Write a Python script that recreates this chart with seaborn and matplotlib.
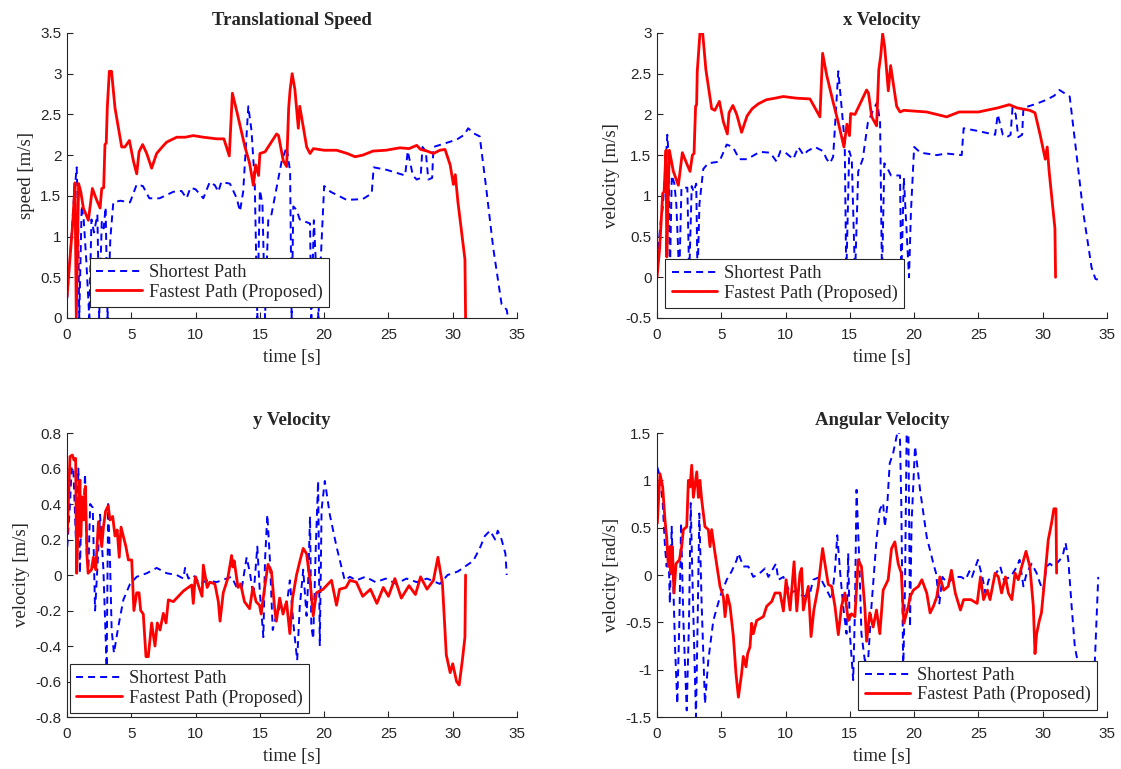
import numpy as np
import pandas as pd
import matplotlib
matplotlib.use('Agg')
import matplotlib.pyplot as plt
from matplotlib.ticker import FuncFormatter
import seaborn as sns

# (time [s], value) pairs
speed_fast = [(0, 0.26), (0.36, 1.0), (0.44, 1.16), (0.62, 1.66), (0.72, 0.0), (0.9, 1.65), (1.07, 1.55),
              (1.27, 1.35), (1.66, 1.2), (1.97, 1.59), (2.3, 1.45), (2.57, 1.35), (2.7, 1.59), (2.85, 1.6),
              (2.95, 2.13), (3.05, 2.15), (3.13, 2.58), (3.29, 3.03), (3.46, 3.03), (3.73, 2.58), (4.25, 2.1),
              (4.5, 2.1), (4.85, 2.18), (5.16, 1.93), (5.42, 1.77), (5.6, 2.04), (5.88, 2.13), (6.2, 2.02),
              (6.58, 1.84), (6.97, 2.02), (7.4, 2.1), (7.75, 2.16), (8.53, 2.22), (9.2, 2.22), (9.82, 2.24),
              (10.6, 2.22), (11.64, 2.2), (12.2, 2.2), (12.62, 1.99), (12.86, 2.76), (13.2, 2.54), (13.84, 2.1),
              (14.2, 1.9), (14.49, 1.63), (14.67, 1.88), (14.9, 1.75), (15.0, 2.02), (15.4, 2.04), (16.3, 2.26),
              (16.45, 2.24), (16.82, 1.93), (17.08, 1.86), (17.24, 2.58), (17.35, 2.8), (17.51, 3.0),
              (17.72, 2.81), (17.99, 2.33), (18.1, 2.6), (18.64, 2.1), (18.9, 2.02), (19.16, 2.08), (20.0, 2.06),
              (20.97, 2.06), (21.8, 2.02), (22.4, 1.98), (23.0, 2.0), (23.8, 2.05), (24.8, 2.06), (25.9, 2.09),
              (26.6, 2.08), (27.2, 2.12), (27.5, 2.07), (28.0, 2.05), (28.5, 2.02), (29.0, 2.06), (29.4, 2.07),
              (29.8, 1.88), (30.05, 1.64), (30.2, 1.76), (30.4, 1.43), (30.95, 0.72), (31.0, 0.0)]

speed_short = [(0, 0.22), (0.3, 0.9), (0.55, 1.5), (0.75, 1.85), (0.85, 1.3), (0.95, 0.0), (1.14, 1.38),
               (1.3, 1.2), (1.5, 0.7), (1.73, 0.0), (1.9, 1.21), (2.1, 1.05), (2.36, 1.27), (2.5, 0.0),
               (2.7, 1.18), (2.85, 1.1), (3.0, 1.36), (3.15, 0.0), (3.37, 0.98), (3.6, 1.42), (4.14, 1.44),
               (4.9, 1.42), (5.42, 1.64), (5.9, 1.62), (6.4, 1.47), (7.2, 1.47), (8.27, 1.55), (8.9, 1.56),
               (9.3, 1.47), (9.6, 1.6), (10.0, 1.58), (10.6, 1.47), (11.1, 1.67), (11.5, 1.63), (11.77, 1.55),
               (12.0, 1.67), (12.67, 1.65), (13.2, 1.47), (13.45, 1.31), (13.7, 1.55), (14.1, 2.6), (14.35, 2.3),
               (14.6, 1.67), (14.8, 0.0), (15.0, 1.57), (15.2, 1.4), (15.4, 0.0), (15.65, 1.2), (15.9, 1.27),
               (16.3, 1.6), (16.7, 1.93), (17.08, 2.1), (17.35, 1.8), (17.47, 0.0), (17.6, 1.37), (17.85, 1.33),
               (18.1, 1.21), (18.9, 1.16), (19.0, 0.0), (19.2, 1.2), (19.55, 0.0), (19.7, 0.6), (20.0, 1.62),
               (20.5, 1.55), (21.75, 1.45), (23.0, 1.46), (23.7, 1.53), (23.85, 1.85), (24.85, 1.82),
               (26.3, 1.75), (26.5, 2.05), (26.9, 1.75), (27.2, 1.7), (27.5, 1.72), (27.65, 2.1), (27.9, 2.05),
               (28.1, 1.7), (28.4, 1.72), (28.5, 2.1), (29.5, 2.15), (30.3, 2.19), (30.9, 2.25), (31.2, 2.33),
               (31.6, 2.27), (32.1, 2.23), (32.6, 1.6), (33.15, 0.86), (33.8, 0.17), (34.2, 0.1), (34.3, 0.0)]

xvel_fast = [(0, 0.0), (0.2, 0.35), (0.36, 0.79), (0.44, 1.03), (0.55, 1.05), (0.7, 1.56), (0.76, 0.25),
             (0.85, 0.9), (0.96, 1.56), (1.27, 1.3), (1.66, 1.13), (1.97, 1.53), (2.3, 1.4), (2.57, 1.3),
             (2.75, 1.5), (2.88, 1.52), (3.0, 2.1), (3.08, 2.12), (3.13, 2.53), (3.34, 3.0), (3.55, 3.0),
             (3.8, 2.55), (4.25, 2.07), (4.5, 2.05), (4.85, 2.16), (5.16, 1.91), (5.47, 1.76), (5.6, 2.02),
             (5.9, 2.11), (6.2, 2.0), (6.58, 1.78), (7.0, 1.98), (7.4, 2.07), (7.88, 2.13), (8.5, 2.18),
             (9.2, 2.2), (9.82, 2.22), (10.8, 2.2), (11.9, 2.19), (12.67, 1.97), (12.88, 2.75), (13.2, 2.48),
             (13.7, 2.15), (14.1, 1.9), (14.54, 1.6), (14.77, 1.88), (14.97, 1.74), (15.06, 2.01), (15.4, 2.0),
             (16.3, 2.3), (16.45, 2.26), (16.7, 1.97), (17.08, 1.86), (17.25, 2.55), (17.4, 2.72),
             (17.55, 2.99), (17.7, 2.84), (17.99, 2.29), (18.17, 2.6), (18.64, 2.1), (18.9, 2.03), (19.2, 2.05),
             (20.97, 2.03), (22.53, 1.97), (23.5, 2.03), (25.0, 2.03), (26.5, 2.08), (27.4, 2.12), (28.0, 2.08),
             (29.0, 2.05), (29.4, 2.02), (29.8, 1.75), (30.2, 1.45), (30.35, 1.6), (30.5, 1.3), (30.95, 0.6),
             (31.0, 0.0)]

xvel_short = [(0, 0.2), (0.3, 0.7), (0.44, 0.85), (0.6, 1.2), (0.8, 1.75), (0.9, 1.5), (1.0, 0.0),
              (1.15, 1.25), (1.35, 1.15), (1.5, 0.9), (1.73, 0.0), (1.9, 1.1), (2.1, 1.1), (2.36, 1.1),
              (2.5, 0.0), (2.7, 1.12), (2.85, 1.05), (3.05, 1.15), (3.15, 0.0), (3.3, 0.9), (3.6, 1.33),
              (3.98, 1.4), (4.85, 1.42), (5.42, 1.63), (5.9, 1.6), (6.4, 1.45), (7.0, 1.45), (8.0, 1.54),
              (8.8, 1.53), (9.3, 1.42), (9.6, 1.55), (10.0, 1.53), (10.6, 1.45), (10.99, 1.6), (11.4, 1.5),
              (11.7, 1.55), (12.28, 1.6), (12.9, 1.55), (13.2, 1.45), (13.45, 1.4), (13.7, 1.48), (14.1, 2.53),
              (14.35, 2.1), (14.6, 1.65), (14.72, 0.0), (14.95, 1.55), (15.15, 1.45), (15.4, 0.0), (15.65, 1.3),
              (16.0, 1.45), (16.4, 1.9), (16.8, 2.05), (17.13, 2.15), (17.35, 1.9), (17.5, 0.0), (17.68, 1.4),
              (17.95, 1.33), (18.2, 1.25), (18.9, 1.25), (19.0, 0.0), (19.2, 1.22), (19.6, 0.0), (19.75, 0.8),
              (20.0, 1.6), (20.5, 1.53), (21.75, 1.5), (22.5, 1.52), (23.7, 1.5), (23.85, 1.83), (24.85, 1.8),
              (26.3, 1.75), (26.5, 2.0), (26.9, 1.75), (27.2, 1.72), (27.5, 1.75), (27.65, 2.08), (27.9, 2.0),
              (28.1, 1.72), (28.4, 1.75), (28.5, 2.08), (29.5, 2.13), (30.3, 2.18), (30.9, 2.23), (31.3, 2.3),
              (31.7, 2.26), (32.1, 2.22), (32.6, 1.55), (33.15, 0.8), (33.8, 0.12), (34.1, -0.02), (34.3, -0.03)]

yvel_fast = [(0.02, 0.235), (0.23, 0.667), (0.41, 0.676), (0.54, 0.648), (0.67, 0.657), (0.75, 0.01),
             (0.87, 0.31), (1.0, 0.535), (1.07, 0.216), (1.18, 0.44), (1.3, 0.31), (1.43, 0.5), (1.56, 0.1),
             (1.64, 0.01), (1.9, 0.03), (2.05, 0.1), (2.23, 0.03), (2.44, 0.3), (2.7, 0.16), (2.83, 0.27),
             (3.0, 0.36), (3.2, 0.39), (3.34, 0.31), (3.55, 0.33), (3.73, 0.22), (3.9, 0.254), (4.06, 0.1),
             (4.2, 0.27), (4.58, 0.16), (4.77, 0.085), (5.03, 0.085), (5.2, -0.2), (5.42, -0.1), (5.6, -0.1),
             (5.73, -0.2), (5.93, -0.22), (6.14, -0.46), (6.32, -0.46), (6.58, -0.27), (6.84, -0.4),
             (7.02, -0.27), (7.23, -0.31), (7.49, -0.216), (7.7, -0.27), (7.88, -0.14), (8.27, -0.15),
             (9.05, -0.09), (9.7, -0.056), (9.82, -0.16), (9.95, -0.03), (10.0, -0.01), (10.5, -0.12),
             (10.6, 0.056), (10.9, -0.07), (11.1, -0.04), (11.5, -0.05), (11.77, -0.15), (11.9, -0.26),
             (12.15, -0.1), (12.5, -0.02), (12.8, 0.11), (12.9, 0.045), (13.0, 0.08), (13.3, -0.07),
             (13.5, -0.05), (13.8, -0.15), (14.2, -0.19), (14.45, -0.07), (14.7, -0.15), (14.97, -0.17),
             (15.1, -0.22), (15.37, -0.07), (15.63, 0.06), (15.9, 0.02), (16.15, -0.19), (16.28, -0.26),
             (16.54, -0.13), (16.8, -0.22), (17.07, -0.15), (17.33, -0.33), (17.54, -0.13), (17.85, 0.0),
             (18.1, 0.075), (18.37, 0.15), (18.63, 0.12), (18.9, -0.03), (19.15, -0.23), (19.4, -0.1),
             (19.92, -0.08), (20.57, -0.03), (20.96, -0.17), (21.2, -0.08), (21.7, -0.07), (22.0, -0.03),
             (22.5, -0.04), (23.0, -0.12), (23.6, -0.08), (24.1, -0.16), (24.6, -0.07), (25.0, -0.12),
             (25.5, -0.02), (26.0, -0.13), (26.6, -0.06), (27.1, -0.11), (27.5, -0.01), (28.0, -0.08),
             (28.5, -0.03), (28.85, 0.1), (29.2, -0.05), (29.5, -0.45), (29.8, -0.55), (30.0, -0.5),
             (30.3, -0.6), (30.5, -0.62), (30.75, -0.48), (30.95, -0.35), (31.0, 0.0)]

yvel_short = [(0.02, 0.16), (0.23, 0.4), (0.36, 0.61), (0.49, 0.6), (0.62, 0.34), (0.75, 0.085), (0.88, 0.6),
              (1.0, 0.01), (1.14, 0.44), (1.27, 0.31), (1.4, 0.57), (1.53, 0.12), (1.66, 0.03), (1.8, 0.4),
              (2.0, 0.38), (2.18, -0.2), (2.36, 0.04), (2.57, 0.34), (2.83, 0.03), (3.08, -0.52), (3.2, 0.4),
              (3.34, 0.085), (3.47, -0.31), (3.65, -0.44), (3.99, -0.29), (4.38, -0.14), (4.9, -0.05),
              (5.42, -0.01), (6.2, 0.01), (6.97, 0.04), (7.75, 0.01), (8.53, 0.0), (9.05, -0.02), (9.18, 0.04),
              (9.44, -0.02), (9.82, 0.0), (10.35, -0.05), (10.87, -0.03), (11.64, -0.04), (12.4, -0.02),
              (12.8, -0.01), (13.2, -0.07), (13.6, -0.07), (13.97, 0.1), (14.23, 0.01), (14.5, -0.12),
              (14.8, 0.16), (15.0, -0.1), (15.27, -0.35), (15.4, 0.085), (15.58, 0.34), (15.78, 0.085),
              (16.0, -0.31), (16.3, -0.22), (16.7, -0.16), (17.07, -0.18), (17.33, -0.03), (17.6, -0.27),
              (17.9, -0.48), (18.1, -0.18), (18.37, 0.03), (18.63, -0.23), (18.76, -0.03), (18.9, 0.33),
              (19.0, -0.29), (19.15, -0.36), (19.35, 0.16), (19.53, 0.53), (19.66, -0.4), (19.8, 0.37),
              (20.05, 0.53), (20.44, 0.34), (20.96, 0.16), (21.6, -0.03), (22.0, -0.01), (22.5, -0.03),
              (23.2, -0.01), (24.0, -0.04), (24.8, -0.02), (25.6, -0.05), (26.4, -0.02), (27.2, -0.04),
              (28.0, -0.02), (29.0, -0.05), (29.6, 0.0), (30.4, 0.02), (31.0, 0.05), (31.6, 0.08),
              (32.1, 0.15), (32.5, 0.22), (32.9, 0.25), (33.3, 0.2), (33.5, 0.25), (33.8, 0.2), (34.1, 0.12),
              (34.2, 0.0)]

ang_fast = [(0.02, 0.546), (0.23, 1.07), (0.44, 0.93), (0.62, 0.58), (0.75, 0.4), (0.88, 0.09), (1.0, 0.3),
            (1.08, 0.02), (1.19, 0.3), (1.32, -0.19), (1.48, 0.12), (1.74, 0.16), (1.92, 0.3), (2.05, 0.48),
            (2.31, 0.51), (2.44, 1.0), (2.57, 0.93), (2.7, 1.16), (2.83, 0.82), (3.09, 1.09), (3.22, 0.82),
            (3.34, 1.0), (3.47, 0.8), (3.73, 0.51), (3.99, 0.48), (4.12, 0.3), (4.25, 0.48), (4.51, 0.23),
            (4.9, -0.12), (5.16, -0.23), (5.29, -0.44), (5.47, -0.21), (5.68, -0.33), (5.94, -0.65),
            (6.14, -1.04), (6.33, -1.29), (6.58, -1.04), (6.71, -0.86), (6.92, -0.97), (7.05, -0.83),
            (7.23, -0.76), (7.36, -0.51), (7.49, -0.62), (7.75, -0.48), (8.27, -0.44), (8.53, -0.33),
            (8.92, -0.28), (9.18, -0.19), (9.57, -0.19), (9.83, -0.38), (10.04, -0.05), (10.35, -0.37),
            (10.66, 0.14), (10.87, -0.38), (11.12, 0.02), (11.25, 0.07), (11.38, -0.37), (11.77, -0.12),
            (11.98, -0.65), (12.2, -0.37), (12.54, -0.12), (12.88, 0.28), (13.06, 0.12), (13.32, -0.1),
            (13.58, -0.12), (13.84, -0.33), (14.1, -0.63), (14.35, -0.33), (14.61, -0.19), (14.87, -0.48),
            (15.13, -0.41), (15.39, -0.44), (15.65, 0.16), (15.9, 0.09), (16.16, -0.33), (16.3, -0.7),
            (16.55, -0.4), (16.81, -0.55), (17.07, -0.37), (17.33, -0.62), (17.59, -0.16), (17.98, -0.05),
            (18.24, 0.28), (18.5, 0.35), (18.76, 0.12), (19.0, 0.02), (19.2, -0.51), (19.55, -0.33),
            (19.68, -0.23), (19.94, -0.16), (20.33, -0.12), (20.6, -0.05), (20.98, -0.19), (21.24, -0.4),
            (21.5, -0.33), (21.76, -0.23), (22.0, -0.02), (22.3, -0.16), (22.65, -0.12), (22.9, 0.05),
            (23.2, -0.19), (23.6, -0.37), (23.85, -0.26), (24.4, -0.26), (24.9, -0.3), (25.16, -0.02),
            (25.4, -0.26), (25.7, -0.16), (25.9, -0.26), (26.3, 0.02), (26.55, -0.02), (26.8, -0.19),
            (27.1, -0.02), (27.33, -0.19), (27.6, -0.26), (27.85, 0.02), (28.1, -0.05), (28.37, 0.09),
            (28.7, 0.25), (29.0, 0.09), (29.27, -0.33), (29.4, -0.83), (29.53, -0.62), (29.74, -0.48),
            (29.9, -0.4), (30.17, -0.02), (30.43, 0.37), (30.69, 0.55), (30.87, 0.7), (31.03, 0.7),
            (31.08, 0.02)]

ang_short = [(0.02, 1.14), (0.23, 1.04), (0.44, 0.76), (0.62, 0.3), (0.75, 0.09), (0.88, 0.3), (1.0, -0.3),
             (1.14, 0.51), (1.27, -0.12), (1.4, -0.76), (1.58, -1.36), (1.74, -0.48), (1.87, 0.55),
             (2.05, -0.48), (2.31, -1.43), (2.49, -0.48), (2.62, 0.76), (2.77, -0.12), (3.03, -1.5),
             (3.16, -0.48), (3.29, 0.65), (3.47, -0.3), (3.73, -1.36), (3.99, -0.9), (4.38, -0.48),
             (4.9, -0.23), (5.42, -0.05), (5.81, 0.04), (6.2, 0.16), (6.33, 0.23), (6.71, 0.09), (7.1, 0.09),
             (7.49, -0.02), (8.0, 0.02), (8.4, 0.07), (8.66, -0.02), (9.25, 0.12), (9.44, -0.05),
             (9.83, -0.02), (10.35, -0.19), (10.87, -0.16), (11.38, -0.23), (11.9, -0.19), (12.15, -0.05),
             (12.67, -0.02), (13.2, -0.16), (13.58, -0.26), (13.84, 0.05), (14.02, 0.42), (14.23, 0.05),
             (14.48, -0.33), (14.74, -0.62), (14.87, 0.23), (15.0, -0.62), (15.26, -1.11), (15.39, -0.4),
             (15.52, 0.9), (15.73, 0.16), (15.9, -0.62), (16.16, -0.9), (16.42, -0.9), (16.68, -0.33),
             (17.07, 0.37), (17.33, 0.69), (17.59, 0.76), (17.72, 0.51), (17.9, 0.72), (18.1, 1.18),
             (18.37, 1.29), (18.63, 1.46), (18.76, 1.55), (18.9, 1.43), (19.0, 0.76), (19.15, -1.0),
             (19.29, -0.12), (19.42, 1.55), (19.55, 1.55), (19.68, -0.55), (19.8, 0.55), (20.07, 1.36),
             (20.46, 0.9), (20.98, 0.4), (21.5, 0.12), (21.7, 0.02), (21.96, -0.3), (22.2, -0.02),
             (22.6, -0.09), (23.1, -0.02), (23.65, -0.02), (24.0, -0.05), (24.3, 0.04), (24.5, -0.02),
             (24.96, 0.16), (25.3, -0.02), (25.55, -0.19), (25.8, -0.05), (26.2, -0.02), (26.7, 0.09),
             (26.97, -0.05), (27.5, -0.02), (28.0, 0.09), (28.2, 0.16), (28.5, -0.12), (28.75, 0.02),
             (29.14, 0.12), (29.53, 0.02), (29.8, -0.09), (30.04, -0.16), (30.3, 0.09), (30.56, 0.12),
             (30.82, 0.09), (31.08, 0.12), (31.34, 0.16), (31.6, 0.23), (31.78, 0.34), (31.99, 0.16),
             (32.25, -0.33), (32.5, -0.76), (32.7, -0.9), (33.2, -1.3), (33.7, -1.2), (34.06, -0.9),
             (34.32, -0.02)]

titles = ['Translational Speed', 'x Velocity', 'y Velocity', 'Angular Velocity']
ylabels = ['speed [m/s]', 'velocity [m/s]', 'velocity [m/s]', 'velocity [rad/s]']
ylims = [(0, 3.5), (-0.5, 3), (-0.8, 0.8), (-1.5, 1.5)]
ysteps = [0.5, 0.5, 0.2, 0.5]
series = [(speed_short, speed_fast), (xvel_short, xvel_fast), (yvel_short, yvel_fast), (ang_short, ang_fast)]
legend_anchor = [(0.051, 0.038), (0.018, 0.035), (0.0067, 0.013), (0.447, 0.025)]


def matlab_fmt(x, pos):
    x = round(x, 6) + 0.0
    return '%g' % x


sns.set_style('ticks')
plt.rcParams['font.family'] = ['Liberation Serif', 'DejaVu Serif']

fig = plt.figure(figsize=(11.21, 7.69), dpi=100)
positions = [[0.0598, 0.5865, 0.4014, 0.3706], [0.5861, 0.5865, 0.4014, 0.3706],
             [0.0598, 0.0676, 0.4014, 0.3693], [0.5861, 0.0676, 0.4014, 0.3693]]

for i in range(4):
    ax = fig.add_axes(positions[i])
    short, fast = series[i]
    df_s = pd.DataFrame(short, columns=['t', 'v'])
    df_f = pd.DataFrame(fast, columns=['t', 'v'])
    sns.lineplot(data=df_s, x='t', y='v', ax=ax, estimator=None, sort=False, color=(0, 0, 1),
                 linewidth=1.4, linestyle='--', label='Shortest Path')
    ax.lines[-1].set_dashes([3.6, 2.6])
    sns.lineplot(data=df_f, x='t', y='v', ax=ax, estimator=None, sort=False, color=(1, 0, 0),
                 linewidth=2.0, label='Fastest Path (Proposed)')

    lo, hi = ylims[i]
    ax.set_xlim(0, 35)
    ax.set_ylim(lo, hi)
    ax.set_xticks(np.arange(0, 36, 5))
    ax.set_yticks(np.round(np.arange(lo, hi + 1e-9, ysteps[i]), 2))
    ax.xaxis.set_major_formatter(FuncFormatter(matlab_fmt))
    ax.yaxis.set_major_formatter(FuncFormatter(matlab_fmt))
    ax.tick_params(direction='in', length=4, width=0.8, colors='0.15', labelsize=11,
                   labelfontfamily='Liberation Sans')
    ax.tick_params(axis='x', pad=7)
    ax.tick_params(axis='y', pad=4)
    for s in ['top', 'right']:
        ax.spines[s].set_visible(False)
    for s in ['left', 'bottom']:
        ax.spines[s].set_color('0.15')
        ax.spines[s].set_linewidth(0.8)

    ax.set_title(titles[i], fontsize=13.5, fontweight='bold', pad=6)
    ax.set_xlabel('time [s]', fontsize=13.5, labelpad=5)
    ax.set_ylabel(ylabels[i], fontsize=13.5, labelpad=4)

    leg = ax.legend(loc='lower left', bbox_to_anchor=legend_anchor[i], borderaxespad=0, fontsize=13.2,
                    frameon=True, fancybox=False, framealpha=1, edgecolor='0.15', handlelength=2.5,
                    handletextpad=0.35, labelspacing=0.12, borderpad=0.35)
    leg.get_frame().set_linewidth(0.8)
    leg.set_zorder(10)

fig.savefig('out.png', dpi=100)
